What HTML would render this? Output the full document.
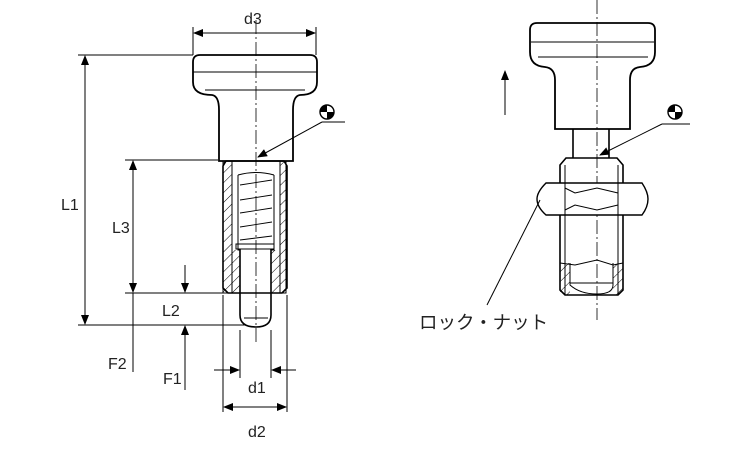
<!DOCTYPE html>
<html><head><meta charset="utf-8"><style>
body{margin:0;background:#fff}
svg{display:block}
text{font-family:"Liberation Sans","Noto Sans CJK JP",sans-serif;font-size:16px;fill:#222}
</style></head><body>
<svg width="750" height="450" viewBox="0 0 750 450" xmlns="http://www.w3.org/2000/svg">
<defs>
<marker id="a" markerWidth="10" markerHeight="8" refX="9" refY="4" orient="auto" markerUnits="userSpaceOnUse"><path d="M0,0 L10,4 L0,8 z" fill="#000"/></marker>
<pattern id="h" width="7" height="7" patternUnits="userSpaceOnUse" patternTransform="rotate(45)"><line x1="0" y1="0" x2="0" y2="7" stroke="#000" stroke-width="1"/></pattern>
</defs>
<g stroke="#000" fill="none" stroke-width="1">
<line x1="256" y1="20" x2="256" y2="345" stroke-dasharray="14,3,2,3" stroke-width="0.8"/>
<path d="M200,55 H310 Q317,55 317,62 V82 Q317,95 300,95 Q293,96 293,110 V161 H219 V110 Q219,96 212,95 Q193,95 193,82 V62 Q193,55 200,55 Z" stroke-width="1.8"/>
<line x1="193" y1="72" x2="317" y2="72"/>
<line x1="205" y1="90" x2="305" y2="90"/>
<rect x="223" y="161" width="9" height="132" fill="url(#h)"/>
<rect x="280" y="161" width="6" height="132" fill="url(#h)"/>
<path d="M232,250 H240 V293 H232Z M271,250 H280 V293 H271Z" fill="url(#h)" stroke="none"/>
<path d="M226,161 H284 L287,166 V288 L282,293 H228 L223,288 V166 Z" stroke-width="1.6"/>
<line x1="232" y1="172" x2="232" y2="288"/>
<line x1="280" y1="172" x2="280" y2="288"/>
<path d="M238,175 V250 H240 M274,175 V250 H271"/>
<path d="M238,175 Q256,170 274,175"/>
<g stroke-width="0.9"><line x1="240" y1="185" x2="272" y2="180"/><line x1="240" y1="200" x2="272" y2="195"/><line x1="240" y1="213" x2="272" y2="208"/><line x1="240" y1="227" x2="272" y2="222"/><line x1="240" y1="240" x2="272" y2="236"/></g>
<rect x="236" y="244" width="38" height="5"/>
<path d="M240,249 V315 Q240,327 256,327 Q271,327 271,315 V249" stroke-width="1.6"/>
<line x1="244" y1="318" x2="268" y2="318"/>
<line x1="193" y1="55" x2="193" y2="27"/><line x1="316" y1="55" x2="316" y2="27"/>
<line x1="200" y1="33" x2="194" y2="33" marker-end="url(#a)"/><line x1="200" y1="33" x2="315" y2="33" marker-end="url(#a)"/>
<line x1="78" y1="55" x2="193" y2="55"/><line x1="78" y1="325" x2="245" y2="325"/>
<line x1="85" y1="190" x2="85" y2="56" marker-end="url(#a)"/><line x1="85" y1="190" x2="85" y2="324" marker-end="url(#a)"/>
<line x1="125" y1="160" x2="218" y2="160"/><line x1="125" y1="293" x2="228" y2="293"/>
<line x1="133" y1="220" x2="133" y2="161" marker-end="url(#a)"/><line x1="133" y1="220" x2="133" y2="292" marker-end="url(#a)"/>
<line x1="133" y1="293" x2="133" y2="372"/>
<line x1="185" y1="265" x2="185" y2="292" marker-end="url(#a)"/>
<line x1="185" y1="390" x2="185" y2="326" marker-end="url(#a)"/>
<line x1="240" y1="330" x2="240" y2="378"/><line x1="271" y1="330" x2="271" y2="378"/>
<line x1="214" y1="370" x2="239" y2="370" marker-end="url(#a)"/><line x1="296" y1="370" x2="272" y2="370" marker-end="url(#a)"/>
<line x1="223" y1="295" x2="223" y2="412"/><line x1="287" y1="295" x2="287" y2="412"/>
<line x1="255" y1="407" x2="224" y2="407" marker-end="url(#a)"/><line x1="255" y1="407" x2="286" y2="407" marker-end="url(#a)"/>
<line x1="345" y1="122" x2="322" y2="122"/><line x1="322" y1="122" x2="258" y2="157" marker-end="url(#a)"/>
<line x1="597" y1="0" x2="597" y2="320" stroke-dasharray="14,3,2,3" stroke-width="0.8"/>
<path d="M537,23 H648 Q655,23 655,30 V52 Q655,66 640,67 Q630,68 630,80 V129 H555 V80 Q555,68 545,67 Q530,66 530,52 V30 Q530,23 537,23 Z" stroke-width="1.8"/>
<line x1="531" y1="42" x2="654" y2="42"/><line x1="538" y1="57" x2="648" y2="57"/>
<path d="M573,129 V158 M609,129 V158" stroke-width="1.6"/>
<path d="M560,263 H570 V295 H560Z M613,263 H623 V295 H613Z" fill="url(#h)" stroke="none"/>
<path d="M566,158 H617 L623,165 V290 L618,295 H565 L560,290 V165 Z" stroke-width="1.6"/>
<line x1="565" y1="165" x2="565" y2="295"/><line x1="618" y1="165" x2="618" y2="295"/>
<path d="M570,263 V285 Q580,294 597,294 Q613,294 613,285 V263"/>
<path d="M560,263 L575,265 L597,260 L613,265 L623,263"/>
<path d="M546,183 H642 Q648,192 648,199 Q648,207 642,215 H546 Q537,207 537,199 Q537,192 546,183 Z" fill="#fff" stroke-width="1.4"/>
<path d="M565,183 V215 M618,183 V215"/>
<path d="M565,188 L575,193 L597,188 L618,193 M565,210 L575,205 L597,210 L618,205"/>
<line x1="570" y1="283" x2="613" y2="283"/>
<line x1="540" y1="200" x2="487" y2="305"/>
<line x1="505" y1="115" x2="505" y2="71" marker-end="url(#a)"/>
<line x1="690" y1="124" x2="662" y2="124"/><line x1="662" y1="124" x2="600" y2="155" marker-end="url(#a)"/>
</g>
<g transform="translate(327,112)"><circle r="7" fill="#fff" stroke="#000" stroke-width="1.4"/><path d="M0,0 V-7 A7,7 0 0 0 -7,0 Z M0,0 V7 A7,7 0 0 0 7,0 Z" fill="#000"/></g>
<g transform="translate(675,112)"><circle r="7" fill="#fff" stroke="#000" stroke-width="1.4"/><path d="M0,0 V-7 A7,7 0 0 0 -7,0 Z M0,0 V7 A7,7 0 0 0 7,0 Z" fill="#000"/></g>
<text x="244" y="24">d3</text>
<text x="61" y="210">L1</text>
<text x="112" y="233">L3</text>
<text x="162" y="316">L2</text>
<text x="108" y="369">F2</text>
<text x="163" y="384">F1</text>
<text x="248" y="393">d1</text>
<text x="248" y="437">d2</text>
<text x="419" y="329" style="font-size:18.5px">ロック・ナット</text>
</svg>
</body></html>
